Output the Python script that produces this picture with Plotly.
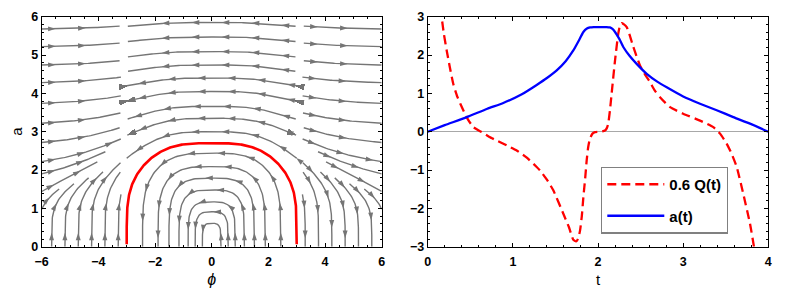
import numpy as np
import plotly.graph_objects as go

# ---------------- right panel data ----------------
a_t = [0, 0.2, 0.458, 0.7, 0.888, 1.1, 1.28, 1.4, 1.515, 1.62, 1.71, 1.78, 1.828, 1.87,
       1.906, 1.95, 2.0, 2.05, 2.1, 2.14, 2.17, 2.2, 2.25, 2.297, 2.37, 2.454, 2.572,
       2.7, 2.807, 3.0, 3.198, 3.394, 3.589, 3.785, 4.0]
a_val = [0, 0.17, 0.38, 0.60, 0.75, 0.97, 1.22, 1.40, 1.60, 1.84, 2.12, 2.40, 2.60, 2.69,
         2.72, 2.73, 2.73, 2.73, 2.73, 2.72, 2.68, 2.60, 2.42, 2.21, 1.98, 1.77, 1.51,
         1.30, 1.16, 0.92, 0.73, 0.56, 0.38, 0.21, 0.0]

q_t = [0.14, 0.164, 0.19, 0.223, 0.26, 0.30, 0.35, 0.418, 0.47, 0.536, 0.634, 0.72, 0.81,
       0.93, 1.045, 1.16, 1.28, 1.319, 1.40, 1.475, 1.593, 1.66, 1.71, 1.742, 1.765, 1.789,
       1.81, 1.828, 1.85, 1.867, 1.885, 1.906, 1.935, 1.965, 2.02, 2.082, 2.105, 2.12, 2.14,
       2.16, 2.2, 2.238, 2.258, 2.278, 2.305, 2.337, 2.375, 2.415, 2.493, 2.55, 2.611, 2.668,
       2.728, 2.846, 3.0, 3.198, 3.354, 3.433, 3.511, 3.57, 3.629, 3.706, 3.785, 3.832, 3.85]
q_val = [3.6, 2.99, 2.55, 2.12, 1.68, 1.25, 0.90, 0.56, 0.33, 0.12, -0.01, -0.13, -0.23,
         -0.36, -0.49, -0.67, -0.92, -1.01, -1.25, -1.53, -2.14, -2.50, -2.82, -2.86, -2.80,
         -2.58, -2.2, -1.71, -1.2, -0.75, -0.40, -0.18, -0.05, -0.01, 0.0, 0.03, 0.10, 0.21,
         0.55, 0.99, 1.86, 2.56, 2.76, 2.83, 2.80, 2.73, 2.50, 2.21, 1.73, 1.50, 1.29, 1.07,
         0.90, 0.64, 0.47, 0.29, 0.12, -0.05, -0.31, -0.58, -0.92, -1.62, -2.40, -3.01, -3.4]

# ---------------- left panel: stream plot of a vector field ----------------
inner_seed_a = [0.61, 0.91, 1.17, 1.48, 1.79, 2.09, 2.44, 3.0, 3.35, 3.66, 4.05, 4.40,
                4.74, 5.09, 5.47, 5.85]            # a values on phi = 0
edge_seed_a = [5.68, 5.22, 4.74, 4.28, 3.74, 3.22, 2.72, 2.22, 1.9, 1.44, 0.98]  # a at |phi| = 6
feet_seed_phi = [3.30, 3.77, 4.24, 4.71, 5.18, 5.65]   # |phi| at a = 0
phi_turn = 3.0                                         # flow reverses across |phi| = 3

GB2 = 8.0
FC, FB, FN = 19.0, 3.02, 3.4


def G(a):
    return a ** 5 / (a * a + GB2)


def Gp(a):
    return (3 * a ** 6 + 5 * GB2 * a ** 4) / (a * a + GB2) ** 2


def F(p):
    u = (abs(p) / FB) ** FN
    return FC * u / (1 + u)


def Fp(p):
    x = abs(p) / FB
    if x == 0:
        return 0.0
    u = x ** FN
    return np.sign(p) * FC * FN * x ** (FN - 1) / (FB * (1 + u) ** 2)


SX, SY = 28.33, 38.33   # approx px per data unit (only for even step length)


def direction(p, a):
    s = 1.0 if abs(p) < phi_turn else -1.0
    dp, da = s * (-Gp(a)), s * Fp(p)
    vx, vy = dp * SX, da * SY
    n = np.hypot(vx, vy)
    if n < 1e-12:
        return None
    return vx / n / SX, vy / n / SY


class Occ:
    def __init__(self, d):
        self.d = d
        self.cells = {}

    def key(self, p, a):
        return (int(np.floor(p * SX / self.d)), int(np.floor(a * SY / self.d)))

    def near(self, p, a):
        kx, ky = self.key(p, a)
        x, y = p * SX, a * SY
        for i in (-1, 0, 1):
            for j in (-1, 0, 1):
                for (qx, qy) in self.cells.get((kx + i, ky + j), ()):
                    if (qx - x) ** 2 + (qy - y) ** 2 < self.d ** 2:
                        return True
        return False

    def add(self, pts):
        for p, a in pts:
            self.cells.setdefault(self.key(p, a), []).append((p * SX, a * SY))


def trace(p0, a0, lo, hi, occ=None, h=1.5, maxn=2000):
    c = G(a0) + F(p0)
    halves = []
    for sgn in (1, -1):
        pts = []
        p, a = p0, a0
        for _ in range(maxn):
            d = direction(p, a)
            if d is None:
                break
            pm, am = p + 0.5 * h * sgn * d[0], a + 0.5 * h * sgn * d[1]
            d2 = direction(pm, am)
            if d2 is None:
                break
            pn, an = p + h * sgn * d2[0], a + h * sgn * d2[1]
            gp, ga = Fp(pn), Gp(max(an, 0.0))
            g2 = gp * gp + ga * ga
            if g2 > 1e-6:
                e = G(max(an, 0.0)) + F(pn) - c
                pn -= e * gp / g2
                an -= e * ga / g2
            if an < 0:
                pts.append((pn, 0.0))
                break
            if pn < lo or pn > hi or an > 6:
                break
            if occ is not None and occ.near(pn, an):
                break
            p, a = pn, an
            pts.append((p, a))
        halves.append(pts)
    return halves[1][::-1] + [(p0, a0)] + halves[0]


occ = Occ(6.0)
lines = []


def add_line(p0, a0, lo, hi):
    if occ.near(p0, a0):
        return
    ln = trace(p0, a0, lo, hi, occ)
    if len(ln) > 3:
        lines.append(ln)
        occ.add(ln)


for a0 in inner_seed_a:
    add_line(0.0, a0, -phi_turn, phi_turn)
for a0 in edge_seed_a:
    add_line(-6.0, a0, -6.0, -3.2)
    add_line(6.0, a0, 3.2, 6.0)
for p0 in feet_seed_phi:
    add_line(-p0, 0.0, -6.0, -3.2)
    add_line(p0, 0.0, 3.2, 6.0)

# separatrix (red)
lo_a, hi_a = 0.0, 6.0
for _ in range(60):
    mid = 0.5 * (lo_a + hi_a)
    if G(mid) < F(phi_turn):
        lo_a = mid
    else:
        hi_a = mid
sep = trace(0.0, lo_a, -3.05, 3.05, None, h=1.0)

lx, ly, ax_, ay_, ang = [], [], [], [], []
for ln in lines:
    arr = np.array(ln)
    lx += list(arr[:, 0]) + [None]
    ly += list(arr[:, 1]) + [None]
    dx = np.diff(arr[:, 0]) * SX
    dy = np.diff(arr[:, 1]) * SY
    seg = np.hypot(dx, dy)
    s = np.concatenate([[0], np.cumsum(seg)])
    L = s[-1]
    pos = 14.0
    while pos < L - 6:
        i = int(np.searchsorted(s, pos)) - 1
        i = max(0, min(i, len(seg) - 1))
        f = (pos - s[i]) / seg[i] if seg[i] > 0 else 0
        ax_.append(arr[i, 0] + f * (arr[i + 1, 0] - arr[i, 0]))
        ay_.append(arr[i, 1] + f * (arr[i + 1, 1] - arr[i, 1]))
        ang.append(float(np.degrees(np.arctan2(dx[i], dy[i]))))
        pos += 30.0

GRAY = "#757575"
FONT = "Liberation Sans"

fig = go.Figure()
fig.add_trace(go.Scatter(x=lx, y=ly, mode="lines", line=dict(color=GRAY, width=1.4),
                         showlegend=False, hoverinfo="skip", xaxis="x", yaxis="y"))
fig.add_trace(go.Scatter(x=ax_, y=ay_, mode="markers",
                         marker=dict(symbol="arrow", size=8, angle=ang, color=GRAY,
                                     line=dict(width=0)),
                         showlegend=False, hoverinfo="skip", xaxis="x", yaxis="y"))
sep_arr = np.array(sep)
fig.add_trace(go.Scatter(x=sep_arr[:, 0], y=sep_arr[:, 1], mode="lines",
                         line=dict(color="#ff0000", width=2.6), showlegend=False,
                         xaxis="x", yaxis="y"))

fig.add_trace(go.Scatter(x=q_t, y=q_val, mode="lines", name="0.6 Q(t)", legendgroup="q",
                         line=dict(color="#ff0000", width=2.3, dash="9px,5px",
                                   shape="spline", smoothing=0.5),
                         xaxis="x2", yaxis="y2"))
fig.add_trace(go.Scatter(x=a_t, y=a_val, mode="lines", name="a(t)", legendgroup="a",
                         line=dict(color="#0000ff", width=2.3, shape="spline", smoothing=0.5),
                         xaxis="x2", yaxis="y2"))

tickfont = dict(family=FONT, size=12.5, color="black", weight="bold")
common = dict(showline=True, linecolor="black", linewidth=1, mirror="allticks",
              ticks="inside", ticklen=4, tickcolor="black", showgrid=False,
              zeroline=False, tickfont=tickfont, automargin=False)

# page body has an 8px margin: figure is 782x295 and placed at (8, 8)
W, H, OFF = 782, 295, 8


def px_x(v):
    return (v - OFF) / W


def px_y(v):
    return 1 - (v - OFF) / H


ydom = [px_y(246.7), px_y(16.7)]
fig.update_layout(
    width=W, height=H, margin=dict(l=0, r=0, t=0, b=0),
    paper_bgcolor="white", plot_bgcolor="white",
    font=dict(family=FONT),
    xaxis=dict(domain=[px_x(41.7), px_x(381.7)], range=[-6, 6], dtick=2,
               ticklabelstandoff=3,
               minor=dict(dtick=0.5, ticks="inside", ticklen=2, tickcolor="black"),
               title=dict(text="<i>ϕ</i>", font=dict(family=FONT, size=16, color="black"),
                          standoff=6),
               **common),
    yaxis=dict(domain=ydom, range=[0, 6], dtick=1,
               minor=dict(dtick=0.2, ticks="inside", ticklen=2, tickcolor="black"),
               title=dict(text="a", font=dict(family=FONT, size=15, color="black"),
                          standoff=15),
               **common),
    xaxis2=dict(domain=[px_x(427.7), px_x(768.3)], range=[0, 4], dtick=1, anchor="y2",
                ticklabelstandoff=3,
                minor=dict(dtick=0.2, ticks="inside", ticklen=2, tickcolor="black"),
                title=dict(text="t", font=dict(family=FONT, size=15, color="black"),
                           standoff=6),
                **common),
    yaxis2=dict(domain=ydom, range=[-3, 3], dtick=1, anchor="x2",
                minor=dict(dtick=0.2, ticks="inside", ticklen=2, tickcolor="black"),
                **{k: v for k, v in common.items() if k != "zeroline"},
                zeroline=True, zerolinecolor="#a8a8a8", zerolinewidth=1),
    legend=dict(x=px_x(601), y=px_y(166.7), xanchor="left", yanchor="top",
                bgcolor="white", bordercolor="#808080", borderwidth=1.3,
                font=dict(family=FONT, size=15, color="black", weight="bold"),
                traceorder="grouped", tracegroupgap=9, itemwidth=57),
)

fig.write_html("out.html")
